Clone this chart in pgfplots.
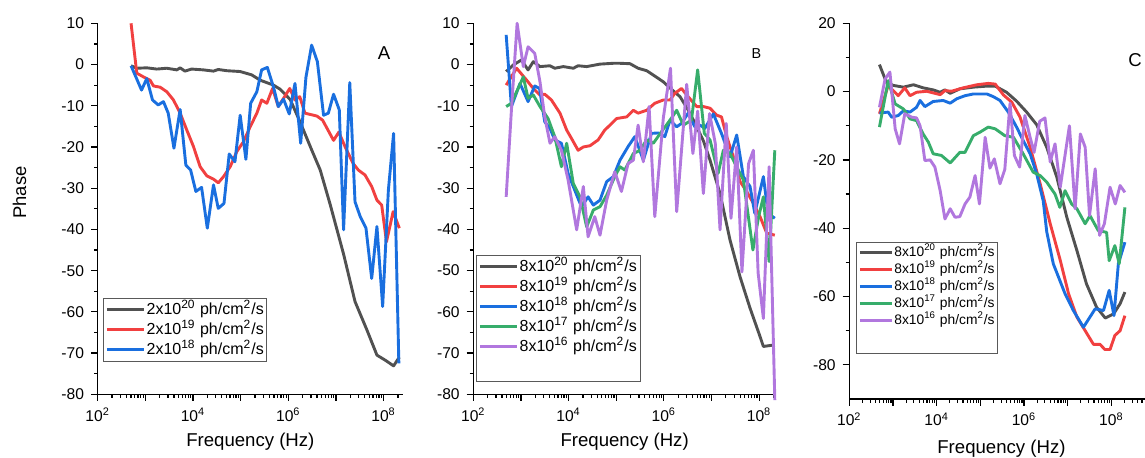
\documentclass[border=0pt]{standalone}
\usepackage{fontspec}
\setmainfont{Liberation Sans}
\usepackage{pgfplots}
\pgfplotsset{compat=1.18}
\definecolor{cgray}{HTML}{515151}
\definecolor{cred}{HTML}{F14040}
\definecolor{cblue}{HTML}{1A6FDF}
\definecolor{cgreen}{HTML}{37AD6B}
\definecolor{cpurple}{HTML}{B177DE}
\newcommand{\phl}[2]{#1x10\textsuperscript{#2} ph/cm\textsuperscript{2}/s}
\pgfplotsset{panel/.style={
  scale only axis, axis lines=left, axis line style={line width=0.75pt,-},
  every tick/.style={line width=0.6pt,black},
  tick align=outside, major tick length=3.3pt, minor tick length=1.8pt,
  xmin=2, xtick={2,...,8},
  xticklabels={10\textsuperscript{2},,10\textsuperscript{4},,10\textsuperscript{6},,10\textsuperscript{8}},
  minor xtick={2.301,2.477,2.602,2.699,2.778,2.845,2.903,2.954,
    3.301,3.477,3.602,3.699,3.778,3.845,3.903,3.954,
    4.301,4.477,4.602,4.699,4.778,4.845,4.903,4.954,
    5.301,5.477,5.602,5.699,5.778,5.845,5.903,5.954,
    6.301,6.477,6.602,6.699,6.778,6.845,6.903,6.954,
    7.301,7.477,7.602,7.699,7.778,7.845,7.903,7.954,
    8.301,8.477,8.602,8.699},
  minor y tick num=1,
  tick label style={font=\fontsize{7.8}{9}\selectfont},
  /pgf/number format/assume math mode=true,
  label style={font=\fontsize{9.3}{11}\selectfont},
  xlabel={Frequency (Hz)},
  xlabel style={at={(axis description cs:0.5,0)},anchor=center,yshift=-23.85pt},
  legend cell align=left,
  legend image code/.code={\draw[#1] (0pt,0pt) -- (18.5pt,0pt);},
  legend style={draw=black!65,line width=0.5pt,fill=white,
    font=\fontsize{8}{9}\selectfont,inner sep=1pt,row sep=0.6pt,
    nodes={inner sep=0.6pt,text height=6.3pt,text depth=1.9pt}},
  every axis plot/.append style={line width=1.45pt,line join=round},
  clip=false,
}}
\begin{document}
\begin{tikzpicture}
\useasboundingbox (0,0) rectangle (572.5pt,229pt);
% ---------- A ----------
\begin{axis}[panel, at={(48.85pt,31.85pt)}, anchor=south west,
  width=152.65pt, height=185.5pt, xmax=8.407, ymin=-80, ymax=10,
  ytick={-80,-70,...,10},
  legend style={at={(axis description cs:0.0174,0.2596)},anchor=north west}]
\addplot[cgray] coordinates {(2.70,-0.3) (2.82,-0.9) (3.03,-0.8) (3.24,-1.1) (3.45,-0.9) (3.66,-1.3) (3.73,-0.8) (3.83,-1.6) (3.97,-1.1) (4.22,-1.3) (4.43,-1.6) (4.53,-1.2) (4.71,-1.5) (4.99,-1.7) (5.23,-2.5) (5.41,-3.8) (5.69,-5.0) (5.83,-6.0) (6.04,-8.5) (6.25,-14.0) (6.49,-20.7) (6.67,-25.6) (6.88,-34.0) (7.16,-46.0) (7.40,-57.5) (7.65,-64.4) (7.86,-70.5) (8.03,-71.7) (8.21,-73.1) (8.33,-71.0)};
\addlegendentry{\phl{2}{20}}
\addplot[cred] coordinates {(2.70,10) (2.82,-2.1) (2.96,-3.0) (3.10,-3.8) (3.17,-5.2) (3.31,-5.5) (3.45,-6.6) (3.59,-8.6) (3.73,-11.8) (3.87,-15.9) (4.01,-19.9) (4.15,-24.8) (4.29,-27.0) (4.43,-27.8) (4.53,-28.7) (4.64,-27.2) (4.78,-24.8) (4.92,-21.1) (5.06,-18.7) (5.20,-15.1) (5.34,-11.8) (5.44,-8.6) (5.55,-9.4) (5.67,-5.8) (5.79,-10.2) (5.90,-8.2) (6.03,-5.8) (6.14,-8.6) (6.24,-7.8) (6.35,-11.8) (6.60,-12.5) (6.72,-13.5) (6.95,-18.4) (7.06,-16.4) (7.19,-19.9) (7.36,-24.0) (7.47,-25.6) (7.61,-26.8) (7.75,-29.6) (7.86,-32.9) (7.96,-34.1) (8.06,-43.0) (8.20,-35.7) (8.33,-39.7)};
\addlegendentry{\phl{2}{19}}
\addplot[cblue] coordinates {(2.70,-0.3) (2.92,-6.2) (3.03,-3.4) (3.15,-8.6) (3.27,-9.8) (3.38,-9.0) (3.48,-11.8) (3.60,-20.3) (3.73,-10.9) (3.85,-24.4) (3.95,-25.6) (4.06,-30.8) (4.18,-29.8) (4.30,-39.7) (4.43,-29.2) (4.53,-34.9) (4.65,-33.7) (4.76,-21.7) (4.88,-23.6) (4.99,-12.3) (5.11,-23.0) (5.21,-9.4) (5.34,-6.6) (5.44,-1.3) (5.56,-0.7) (5.69,-5.5) (5.79,-10.2) (5.90,-8.4) (6.02,-12.0) (6.14,-4.6) (6.26,-19.1) (6.37,-3.1) (6.49,4.7) (6.61,0.7) (6.74,-12.3) (6.84,-11.8) (6.95,-7.2) (7.07,-11.0) (7.16,-40.1) (7.29,-4.4) (7.40,-33.3) (7.51,-36.9) (7.63,-39.7) (7.75,-51.9) (7.86,-39.3) (7.98,-58.7) (8.10,-30.5) (8.21,-16.7) (8.32,-72.5)};
\addlegendentry{\phl{2}{18}}
\end{axis}
% ---------- B ----------
\begin{axis}[panel, at={(236.65pt,31.85pt)}, anchor=south west,
  width=151.35pt, height=185.5pt, xmax=8.355, ymin=-80, ymax=10,
  ytick={-80,-70,...,10},
  legend style={at={(axis description cs:0.009,0.3755)},anchor=north west}]
\addplot[cgray] coordinates {(2.69,-1.7) (2.84,-0.1) (3.01,1.1) (3.15,-1.3) (3.26,0.7) (3.40,-0.5) (3.61,-0.3) (3.71,-0.9) (3.89,-0.5) (4.10,-0.9) (4.20,-0.3) (4.38,-0.5) (4.66,0.1) (4.94,0.3) (5.08,0.3) (5.29,0.2) (5.46,-0.9) (5.64,-1.5) (5.81,-2.8) (5.99,-4.2) (6.13,-5.7) (6.34,-7.8) (6.51,-11.0) (6.69,-15.1) (6.83,-18.5) (6.97,-23.2) (7.18,-31.3) (7.39,-42.6) (7.60,-51.5) (7.81,-59.1) (8.02,-66.0) (8.09,-68.4) (8.33,-68.0)};
\addlegendentry{\phl{8}{20}}
\addplot[cred] coordinates {(2.69,-5.0) (2.91,-0.9) (3.12,-3.8) (3.26,-5.8) (3.40,-7.4) (3.50,-7.2) (3.64,-8.6) (3.82,-11.8) (3.96,-15.9) (4.06,-17.9) (4.20,-20.8) (4.31,-20.0) (4.45,-19.7) (4.62,-18.3) (4.76,-15.9) (4.87,-14.7) (5.01,-13.1) (5.22,-12.7) (5.36,-11.1) (5.46,-11.8) (5.64,-11.1) (5.81,-9.4) (5.99,-8.6) (6.13,-8.6) (6.23,-7.0) (6.37,-5.8) (6.51,-7.8) (6.69,-10.2) (6.83,-10.2) (6.97,-10.6) (7.11,-12.3) (7.21,-12.7) (7.32,-17.5) (7.46,-22.4) (7.60,-28.4) (7.74,-30.8) (7.88,-33.7) (8.02,-36.9) (8.16,-40.9) (8.33,-41.4)};
\addlegendentry{\phl{8}{19}}
\addplot[cblue] coordinates {(2.69,7.2) (2.80,-10.2) (2.98,-4.6) (3.15,-9.0) (3.29,-5.2) (3.39,-5.8) (3.50,-13.9) (3.61,-15.5) (3.71,-18.3) (3.85,-19.1) (3.99,-26.4) (4.13,-30.5) (4.27,-34.5) (4.41,-32.1) (4.52,-34.1) (4.66,-32.9) (4.80,-28.4) (4.94,-27.2) (5.08,-23.2) (5.25,-19.9) (5.39,-17.5) (5.57,-23.2) (5.74,-16.7) (5.88,-16.6) (6.02,-17.5) (6.13,-13.5) (6.27,-15.1) (6.37,-14.3) (6.51,-11.8) (6.65,-15.1) (6.76,-14.7) (6.86,-15.5) (7.04,-12.0) (7.21,-16.7) (7.39,-22.4) (7.53,-17.1) (7.67,-27.2) (7.81,-29.6) (7.91,-36.1) (8.09,-27.2) (8.19,-36.1) (8.33,-37.3)};
\addlegendentry{\phl{8}{18}}
\addplot[cgreen] coordinates {(2.69,-10.2) (2.80,-9.4) (3.05,-3.0) (3.15,-8.2) (3.26,-7.4) (3.40,-10.2) (3.57,-13.1) (3.71,-17.5) (3.85,-24.8) (3.96,-19.1) (4.10,-28.9) (4.24,-32.1) (4.38,-39.4) (4.52,-35.3) (4.66,-34.5) (4.80,-31.7) (4.97,-27.2) (5.08,-24.8) (5.18,-25.6) (5.36,-21.6) (5.50,-20.8) (5.64,-18.3) (5.78,-19.1) (5.95,-16.3) (6.13,-13.5) (6.27,-11.1) (6.41,-14.7) (6.58,-13.5) (6.71,-1.3) (6.85,-16.7) (6.97,-18.3) (7.14,-26.4) (7.25,-20.8) (7.39,-21.6) (7.53,-24.8) (7.67,-28.0) (7.87,-45.0) (7.99,-36.9) (8.09,-32.1) (8.21,-47.8) (8.33,-20.8)};
\addlegendentry{\phl{8}{17}}
\addplot[cpurple] coordinates {(2.69,-32.1) (2.80,-11.1) (2.92,10) (3.05,-0.5) (3.15,4.3) (3.29,2.7) (3.40,-4.2) (3.50,-12.7) (3.61,-19.1) (3.71,-17.5) (3.85,-20.8) (3.99,-28.0) (4.17,-40.1) (4.31,-29.6) (4.41,-41.8) (4.55,-36.9) (4.66,-41.4) (4.80,-32.9) (4.97,-26.0) (5.11,-30.8) (5.25,-24.0) (5.36,-23.2) (5.46,-14.7) (5.57,-23.6) (5.69,-10.2) (5.81,-36.9) (5.99,-12.9) (6.14,-0.9) (6.27,-35.7) (6.48,-4.8) (6.61,-21.6) (6.71,-11.3) (6.83,-31.3) (6.96,-11.9) (7.08,-19.1) (7.18,-40.1) (7.31,-14.3) (7.41,-37.3) (7.53,-20.0) (7.64,-50.3) (7.78,-24.0) (7.88,-20.8) (7.98,-50.6) (8.09,-61.6) (8.21,-24.8) (8.33,-81.4)};
\addlegendentry{\phl{8}{16}}
\addlegendimage{empty legend}
\addlegendentry[text height=10pt,text depth=0pt]{}
\end{axis}
% ---------- C ----------
\begin{axis}[panel, at={(424.65pt,29.5pt)}, anchor=south west,
  width=147.85pt, height=187.85pt, xmax=8.77, ymin=-90, ymax=20,
  ytick={-80,-60,...,20},
  xlabel style={yshift=-1.15pt,xshift=2.15pt},
  legend style={at={(axis description cs:0.0227,0.4176)},anchor=north west,
    font=\fontsize{6.9}{8}\selectfont,row sep=0.3pt,
    nodes={inner sep=0.5pt,text height=5.6pt,text depth=1.6pt}},
  legend image code/.code={\draw[#1] (0pt,0pt) -- (16pt,0pt);}]
\addplot[cgray] coordinates {(2.69,7.9) (2.85,2.7) (3.01,1.8) (3.24,1.3) (3.47,2.0) (3.69,1.1) (3.92,0.5) (4.08,-0.2) (4.19,0.5) (4.31,-0.5) (4.53,0.8) (4.84,1.3) (5.15,1.6) (5.34,1.6) (5.60,-0.2) (5.83,-2.8) (6.06,-6.0) (6.29,-9.7) (6.52,-16.3) (6.75,-25.0) (6.98,-36.8) (7.21,-46.5) (7.43,-56.3) (7.66,-63.1) (7.86,-66.3) (8.05,-65.1) (8.20,-62.1) (8.31,-58.7)};
\addlegendentry{\phl{8}{20}}
\addplot[cred] coordinates {(2.69,-6.5) (2.89,1.8) (3.12,-1.2) (3.27,1.1) (3.39,-1.2) (3.54,-0.2) (3.77,0.1) (4.08,-0.9) (4.19,0.3) (4.34,0.1) (4.61,1.1) (4.92,2.0) (5.18,2.4) (5.34,2.2) (5.53,-1.0) (5.72,-3.1) (5.91,-7.5) (6.14,-16.3) (6.37,-27.0) (6.60,-38.7) (6.83,-49.4) (7.02,-59.2) (7.21,-66.0) (7.40,-70.0) (7.59,-74.0) (7.74,-74.0) (7.85,-75.5) (7.97,-75.5) (8.08,-71.4) (8.20,-70.0) (8.31,-65.6)};
\addlegendentry{\phl{8}{19}}
\addplot[cblue] coordinates {(2.69,-6.3) (2.89,-6.0) (2.97,-7.5) (3.12,-7.0) (3.24,-5.6) (3.39,-6.0) (3.54,-4.6) (3.62,-2.6) (3.73,-4.4) (3.92,-2.9) (4.15,-2.6) (4.31,-3.4) (4.46,-2.1) (4.65,-1.2) (4.84,-0.7) (5.15,-0.7) (5.30,-1.5) (5.45,-2.6) (5.64,-6.0) (5.83,-10.4) (5.98,-14.3) (6.14,-18.2) (6.29,-24.1) (6.44,-32.0) (6.52,-41.0) (6.67,-50.4) (6.94,-59.2) (7.13,-64.1) (7.36,-69.0) (7.51,-66.0) (7.63,-63.6) (7.82,-64.1) (7.95,-58.2) (8.06,-65.6) (8.16,-50.4) (8.31,-44.1)};
\addlegendentry{\phl{8}{18}}
\addplot[cgreen] coordinates {(2.69,-10.4) (2.89,3.2) (3.05,-3.6) (3.24,-5.1) (3.39,-8.0) (3.54,-8.5) (3.69,-12.4) (3.81,-14.8) (3.92,-18.2) (4.11,-18.7) (4.31,-20.9) (4.53,-17.8) (4.65,-17.8) (4.84,-12.9) (4.99,-11.9) (5.18,-10.4) (5.34,-10.9) (5.56,-12.9) (5.76,-13.4) (5.98,-18.2) (6.21,-23.6) (6.37,-24.6) (6.52,-26.5) (6.71,-30.0) (6.82,-33.9) (6.94,-29.0) (7.09,-32.9) (7.21,-34.3) (7.40,-38.7) (7.51,-36.3) (7.70,-40.7) (7.89,-41.2) (7.95,-49.5) (8.08,-45.1) (8.18,-50.4) (8.31,-33.9)};
\addlegendentry{\phl{8}{17}}
\addplot[cpurple] coordinates {(2.69,-4.6) (2.82,3.7) (2.93,5.7) (3.05,-10.9) (3.15,-15.3) (3.27,-6.5) (3.43,-7.5) (3.54,-7.7) (3.62,-10.0) (3.73,-20.2) (3.85,-20.0) (3.96,-22.1) (4.08,-29.0) (4.19,-37.3) (4.31,-34.3) (4.42,-36.8) (4.53,-36.6) (4.65,-32.9) (4.76,-30.9) (4.88,-24.6) (4.98,-32.9) (5.11,-13.4) (5.22,-22.4) (5.32,-19.7) (5.45,-27.0) (5.56,-22.8) (5.68,-3.4) (5.78,-18.7) (5.90,-22.1) (6.02,-7.0) (6.14,-13.4) (6.23,-17.8) (6.36,-8.7) (6.48,-7.7) (6.60,-20.6) (6.71,-15.3) (6.83,-28.0) (7.04,-10.0) (7.17,-34.3) (7.29,-12.4) (7.40,-16.3) (7.50,-36.3) (7.63,-22.6) (7.73,-42.1) (7.84,-38.7) (7.97,-28.0) (8.09,-32.9) (8.20,-27.5) (8.31,-29.5)};
\addlegendentry{\phl{8}{16}}
\addlegendimage{empty legend}
\addlegendentry[text height=10pt,text depth=0pt]{}
\end{axis}
\node[font=\fontsize{9.2}{11}\selectfont,rotate=90] at (9.75pt,132.75pt) {Phase};
\node[font=\fontsize{9.3}{11}\selectfont] at (192pt,202.25pt) {A};
\node[font=\fontsize{7.2}{9}\selectfont] at (378.25pt,202pt) {B};
\node[font=\fontsize{9.3}{11}\selectfont] at (567.5pt,199pt) {C};
\end{tikzpicture}
\end{document}
